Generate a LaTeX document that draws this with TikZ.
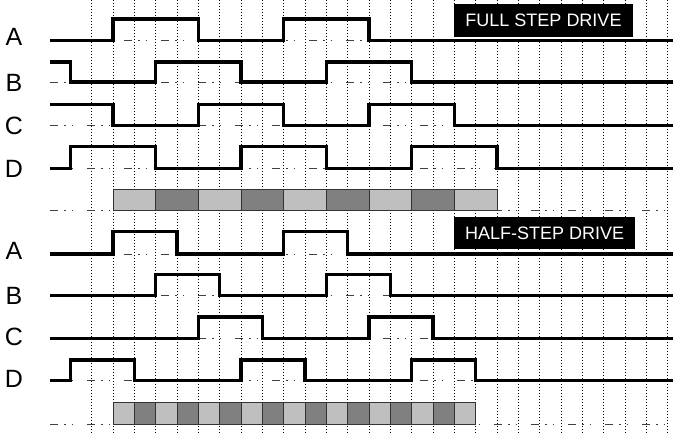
\documentclass[tikz,border=0pt]{standalone}
\usepackage{fontspec}
\setmainfont{Liberation Sans}
\begin{document}
\begin{tikzpicture}[x=21.3333pt,y=-1pt,
  gridline/.style={line width=0.9pt,black,dash pattern=on 1.2pt off 1.8pt},
  baseline/.style={line width=0.8pt,black!75,dash pattern=on 8pt off 6pt on 1.5pt off 6pt on 1.5pt off 14pt},
  wave/.style={line width=3.5pt,line join=miter,line cap=butt},
  lightbox/.style={fill=black!25,draw=black!80,line width=0.8pt},
  darkbox/.style={fill=black!50,draw=black!80,line width=0.8pt},
  sig/.style={font=\fontsize{25}{25}\selectfont,inner sep=0pt},
  title/.style={fill=black,text=white,font=\fontsize{18}{18}\selectfont,inner sep=0pt}]
\useasboundingbox (-4.2969,0) rectangle (27.2503,435);
\fill[white] (-4.2969,0) rectangle (27.2503,435);
% grid
\foreach \k in {0,...,27} \draw[gridline] (\k,0) -- (\k,435);
% baselines
\foreach \yy in {40.7,82,125.7,168.3,210.7,254,295.7,338.7,380.7,424.3}
  \draw[baseline] (-1.953,\yy) -- (27.25,\yy);
% full step waveforms
\draw[wave] (-1.953,40.7) -| (1,19) -| (5,40.7) -| (9,19) -| (13,40.7) -- (27.25,40.7);
\draw[wave] (-1.953,62) -| (-1,82) -| (3,62) -| (7,82) -| (11,62) -| (15,82) -- (27.25,82);
\draw[wave] (-1.953,104.3) -| (1,125.7) -| (5,104.3) -| (9,125.7) -| (13,104.3) -| (17,125.7) -- (27.25,125.7);
\draw[wave] (-1.953,168.3) -| (-1,146.7) -| (3,168.3) -| (7,146.7) -| (11,168.3) -| (15,146.7) -| (19,168.3) -- (27.25,168.3);
% half step waveforms
\draw[wave] (-1.953,254) -| (1,231.7) -| (4,254) -| (9,231.7) -| (12,254) -- (27.25,254);
\draw[wave] (-1.953,295.7) -| (3,274.3) -| (6,295.7) -| (11,274.3) -| (14,295.7) -- (27.25,295.7);
\draw[wave] (-1.953,338.7) -| (5,317) -| (8,338.7) -| (13,317) -| (16,338.7) -- (27.25,338.7);
\draw[wave] (-1.953,380.7) -| (-1,360) -| (2,380.7) -| (7,360) -| (10,380.7) -| (15,360) -| (18,380.7) -- (27.25,380.7);
% full step boxes
\foreach \a in {1,5,9,13,17} \draw[lightbox] (\a,189.3) rectangle ++(2,21.4);
\foreach \a in {3,7,11,15} \draw[darkbox] (\a,189.3) rectangle ++(2,21.4);
% half step boxes
\foreach \a in {1,3,...,17} \draw[lightbox] (\a,402.7) rectangle ++(1,21.6);
\foreach \a in {2,4,...,16} \draw[darkbox] (\a,402.7) rectangle ++(1,21.6);
% titles
\node[title,minimum width=178.4pt,minimum height=32.4pt] (tfull) at (21.18,20.5) {FULL STEP DRIVE};
\node[title,minimum width=180.7pt,minimum height=32.6pt] (thalf) at (21.233,233) {HALF-STEP DRIVE};
% signal labels
\node[sig] (fA) at (-3.641,37) {A};
\node[sig] (fB) at (-3.641,83) {B};
\node[sig] (fC) at (-3.641,126) {C};
\node[sig] (fD) at (-3.641,169) {D};
\node[sig] (hA) at (-3.641,250.5) {A};
\node[sig] (hB) at (-3.641,295.8) {B};
\node[sig] (hC) at (-3.641,337) {C};
\node[sig] (hD) at (-3.641,379) {D};
\end{tikzpicture}
\end{document}
